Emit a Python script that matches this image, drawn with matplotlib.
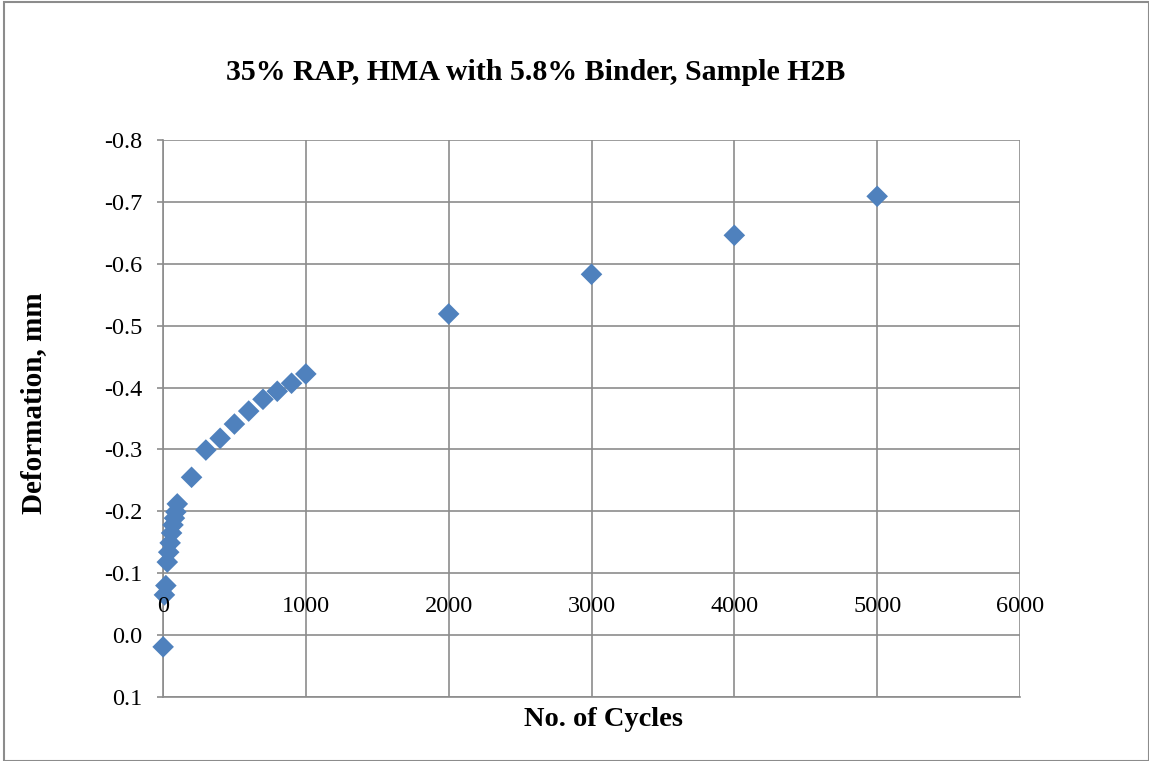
import matplotlib
matplotlib.use("Agg")
import matplotlib.pyplot as plt
from matplotlib.patches import Rectangle
from matplotlib.ticker import MultipleLocator, FuncFormatter

cycles = [1, 10, 20, 30, 40, 50, 60, 70, 80, 90, 100,
          200, 300, 400, 500, 600, 700, 800, 900, 1000,
          2000, 3000, 4000, 5000]
deformation = [0.019, -0.065, -0.080, -0.118, -0.134, -0.149, -0.165, -0.178, -0.189, -0.199, -0.212,
               -0.255, -0.299, -0.318, -0.341, -0.362, -0.381, -0.394, -0.407, -0.422,
               -0.519, -0.583, -0.646, -0.709]
x_ticks = [0, 1000, 2000, 3000, 4000, 5000, 6000]

title = "35% RAP, HMA with 5.8% Binder, Sample H2B"
xlabel = "No. of Cycles"
ylabel = "Deformation, mm"

plt.rcParams['font.family'] = ['Liberation Serif', 'DejaVu Serif']

W, H = 1149, 761
fig = plt.figure(figsize=(W / 100, H / 100), dpi=100)
ax = fig.add_axes([163 / W, 1 - 697 / H, (1020 - 163) / W, (697 - 140) / H])

grid_c = '#8c8c8c'
ax.scatter(cycles, deformation, marker='D', s=11 ** 2, color='#4F81BD',
           edgecolors='none', zorder=3, clip_on=False)

ax.set_xlim(0, 6000)
ax.set_ylim(0.1, -0.8)
ax.set_xticks(x_ticks)
ax.yaxis.set_major_locator(MultipleLocator(0.1))
ax.yaxis.set_major_formatter(FuncFormatter(lambda v, p: f"{v:.1f}"))
ax.grid(True, color=grid_c, linewidth=1.2)
ax.set_axisbelow(True)

for s in ['left', 'right', 'bottom', 'top']:
    ax.spines[s].set_color(grid_c)
    ax.spines[s].set_linewidth(1.2)
ax.spines['right'].set_visible(False)
ax.spines['top'].set_visible(False)

# Cycle labels sit just above the zero line
ax.tick_params(axis='x', length=0, labelbottom=False)
for xv in x_ticks:
    ax.annotate(str(xv), xy=(xv, 0.0), xycoords='data', xytext=(0, 23),
                textcoords='offset pixels', ha='center', va='baseline', fontsize=17.5)
ax.tick_params(axis='y', length=4.3, direction='out', color=grid_c, width=1.2,
               labelsize=17.5, pad=10.5)

fig.text(535.5 / W, 1 - 73 / H, title, ha='center', va='center', fontsize=21.5, fontweight='bold')
fig.text(603 / W, 1 - 719 / H, xlabel, ha='center', va='center', fontsize=20.5, fontweight='bold')
fig.text(34 / W, 1 - 403 / H, ylabel, ha='center', va='center', fontsize=21,
         fontweight='bold', rotation=90)

fig.patches.append(Rectangle((4 / W, 0), 1 - 4 / W, 1 - 2 / H, transform=fig.transFigure,
                             fill=False, edgecolor='#8c8c8c', linewidth=1.5))

fig.savefig('out.png', dpi=100)
